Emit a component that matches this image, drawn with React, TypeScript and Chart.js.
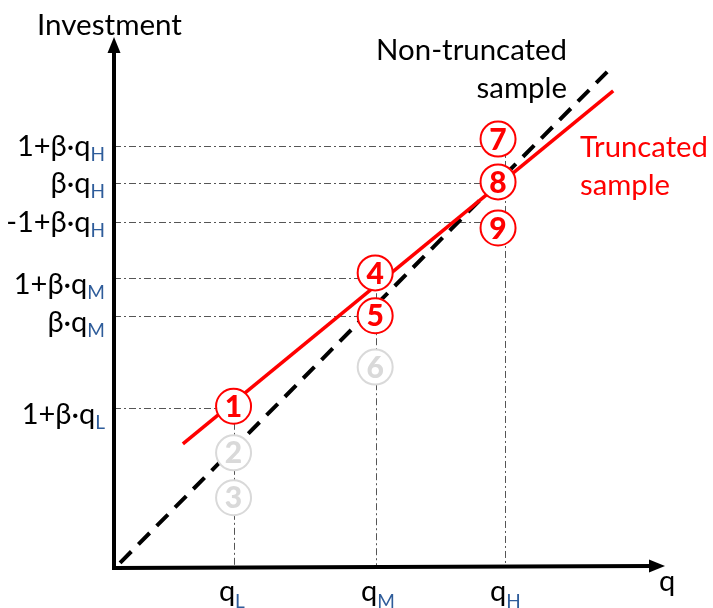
import React, { useEffect, useRef } from "react";
import { Chart, registerables } from "chart.js";

Chart.register(...registerables);

// ---- data ----
const markerX = [2.17, 2.17, 2.17, 4.74, 4.74, 4.74, 6.97, 6.97, 6.97];
const markerY = [3.02, 2.14, 1.29, 5.54, 4.73, 3.76, 8.07, 7.26, 6.39];
const markerLabels = ["1", "2", "3", "4", "5", "6", "7", "8", "9"];
const markerActive = [true, false, false, true, true, false, true, true, true];

const nonTruncX = [0.11, 8.95];
const nonTruncY = [0.06, 9.34];
const truncX = [1.25, 9.06];
const truncY = [2.31, 8.98];

const xTickValues = [2.18, 4.76, 7.1];
const xTickMain = ["q", "q", "q"];
const xTickSub = ["L", "M", "H"];
const xGuideTopY = [2.99, 5.44, 7.94];

const yTickValues = [7.94, 7.24, 6.5, 5.44, 4.73, 2.99];
const yTickMain = ["1+β·q", "β·q", "-1+β·q", "1+β·q", "β·q", "1+β·q"];
const yTickSub = ["H", "H", "H", "M", "M", "L"];
const yGuideEndX = [6.97, 6.97, 6.97, 4.74, 4.74, 2.17];

const yAxisTitle = "Investment";
const xAxisTitle = "q";
const nonTruncLabel = ["Non-truncated", "sample"];
const truncLabel = ["Truncated", "sample"];

const FAMILY = "Lato, 'DejaVu Sans', sans-serif";
const RED = "#ff0000";
const GREY = "#d9d9d9";
const SUBBLUE = "#2e5c9a";

function fitFont(ctx: CanvasRenderingContext2D, text: string, target: number, weight: string) {
  ctx.font = `${weight} 100px ${FAMILY}`;
  const w = ctx.measureText(text).width;
  return (100 * target) / w;
}

const diagramPlugin = {
  id: "diagram",
  beforeDatasetsDraw(chart: any) {
    const ctx: CanvasRenderingContext2D = chart.ctx;
    const xs = chart.scales.x;
    const ys = chart.scales.y;
    const ca = chart.chartArea;
    ctx.save();
    // guide lines
    ctx.strokeStyle = "#555555";
    ctx.lineWidth = 1;
    ctx.setLineDash([7, 3, 2, 3]);
    yTickValues.forEach((v, i) => {
      const py = Math.round(ys.getPixelForValue(v)) + 0.5;
      ctx.beginPath();
      ctx.moveTo(xs.getPixelForValue(0), py);
      ctx.lineTo(xs.getPixelForValue(yGuideEndX[i]), py);
      ctx.stroke();
    });
    xTickValues.forEach((v, i) => {
      const px = Math.round(xs.getPixelForValue(v)) + 0.5;
      ctx.beginPath();
      ctx.moveTo(px, ys.getPixelForValue(xGuideTopY[i]));
      ctx.lineTo(px, ys.getPixelForValue(0));
      ctx.stroke();
    });
    ctx.setLineDash([]);

    // axes with arrows
    const x0 = xs.getPixelForValue(0);
    const y0 = ys.getPixelForValue(0);
    const xEnd = xs.getPixelForValue(10);
    const yEnd = ys.getPixelForValue(10);
    ctx.strokeStyle = "#000";
    ctx.fillStyle = "#000";
    ctx.lineWidth = 4;
    ctx.lineCap = "butt";
    ctx.beginPath();
    ctx.moveTo(x0, yEnd + 12);
    ctx.lineTo(x0, y0 + 2);
    ctx.lineTo(xEnd - 12, y0);
    ctx.stroke();
    ctx.beginPath();
    ctx.moveTo(x0, yEnd);
    ctx.lineTo(x0 - 6.5, yEnd + 16);
    ctx.lineTo(x0 + 6.5, yEnd + 16);
    ctx.closePath();
    ctx.fill();
    ctx.beginPath();
    ctx.moveTo(xEnd, y0);
    ctx.lineTo(xEnd - 16, y0 - 6.5);
    ctx.lineTo(xEnd - 16, y0 + 6.5);
    ctx.closePath();
    ctx.fill();

    // y tick labels (labels for the M and L levels sit a little below their guide)
    const mainSize = 29;
    const subSize = 19;
    ctx.textAlign = "left";
    ctx.textBaseline = "alphabetic";
    yTickValues.forEach((v, i) => {
      const py = ys.getPixelForValue(v) + (yTickSub[i] === "H" ? 0 : 6);
      ctx.font = `${subSize}px ${FAMILY}`;
      const sw = ctx.measureText(yTickSub[i]).width;
      ctx.font = `${mainSize}px ${FAMILY}`;
      const mw = ctx.measureText(yTickMain[i]).width;
      const right = x0 - 9;
      ctx.fillStyle = "#000";
      ctx.fillText(yTickMain[i], right - sw - mw, py + 10);
      ctx.font = `${subSize}px ${FAMILY}`;
      ctx.fillStyle = SUBBLUE;
      ctx.fillText(yTickSub[i], right - sw, py + 15);
    });

    // x tick labels
    xTickValues.forEach((v, i) => {
      const px = xs.getPixelForValue(v);
      ctx.font = `${mainSize}px ${FAMILY}`;
      const mw = ctx.measureText(xTickMain[i]).width;
      ctx.fillStyle = "#000";
      ctx.fillText(xTickMain[i], px - mw + 1, y0 + 35);
      ctx.font = `${subSize}px ${FAMILY}`;
      ctx.fillStyle = SUBBLUE;
      ctx.fillText(xTickSub[i], px + 1, y0 + 42);
    });

    // axis titles
    ctx.fillStyle = "#000";
    let s = fitFont(ctx, yAxisTitle, 145, "normal");
    ctx.font = `${s}px ${FAMILY}`;
    ctx.fillText(yAxisTitle, x0 - 77, yEnd - 2);
    ctx.font = `29px ${FAMILY}`;
    ctx.fillText(xAxisTitle, xEnd - 6, y0 + 25);

    // series labels
    s = fitFont(ctx, nonTruncLabel[0], 191, "normal");
    ctx.font = `${s}px ${FAMILY}`;
    ctx.textAlign = "right";
    ctx.fillText(nonTruncLabel[0], ca.left + 453, 60);
    ctx.fillText(nonTruncLabel[1], ca.left + 453, 98);
    ctx.fillStyle = RED;
    s = fitFont(ctx, truncLabel[0], 128, "normal");
    ctx.font = `${s}px ${FAMILY}`;
    ctx.textAlign = "left";
    ctx.fillText(truncLabel[0], ca.left + 466, 157);
    ctx.fillText(truncLabel[1], ca.left + 466, 195);
    ctx.restore();
  },
  afterDatasetsDraw(chart: any) {
    const ctx: CanvasRenderingContext2D = chart.ctx;
    const meta = chart.getDatasetMeta(0);
    ctx.save();
    ctx.textAlign = "center";
    ctx.textBaseline = "middle";
    ctx.font = `900 30px ${FAMILY}`;
    meta.data.forEach((pt: any, i: number) => {
      ctx.fillStyle = markerActive[i] ? RED : GREY;
      ctx.fillText(markerLabels[i], pt.x, pt.y + 1);
    });
    ctx.restore();
  },
};

export default function App() {
  const ref = useRef<HTMLCanvasElement | null>(null);
  useEffect(() => {
    if (!ref.current) return;
    const chart = new Chart(ref.current, {
      type: "scatter",
      data: {
        datasets: [
          {
            label: "markers",
            data: markerX.map((x, i) => ({ x, y: markerY[i] })),
            pointRadius: 17.5,
            pointHoverRadius: 17.5,
            pointBorderWidth: 2,
            pointHoverBorderWidth: 2,
            pointBackgroundColor: "#ffffff",
            pointBorderColor: markerActive.map((a) => (a ? RED : GREY)),
            showLine: false,
            order: 0,
          },
          {
            label: "Truncated sample",
            data: truncX.map((x, i) => ({ x, y: truncY[i] })),
            showLine: true,
            borderColor: RED,
            borderWidth: 3.5,
            pointRadius: 0,
            order: 1,
          },
          {
            label: "Non-truncated sample",
            data: nonTruncX.map((x, i) => ({ x, y: nonTruncY[i] })),
            showLine: true,
            borderColor: "#000000",
            borderWidth: 4,
            borderDash: [16, 10],
            pointRadius: 0,
            order: 2,
          },
        ],
      },
      options: {
        responsive: false,
        animation: false,
        events: [],
        layout: { padding: { left: 114, right: 48, top: 37, bottom: 42 } },
        scales: {
          x: { type: "linear", min: 0, max: 10, display: false },
          y: { type: "linear", min: 0, max: 10, display: false },
        },
        plugins: { legend: { display: false }, tooltip: { enabled: false } },
      },
      plugins: [diagramPlugin],
    } as any);
    return () => chart.destroy();
  }, []);
  return (
    <div style={{ position: "absolute", left: 0, top: 0, width: 713, height: 608, background: "#fff" }}>
      <canvas ref={ref} width={713} height={608} />
    </div>
  );
}
